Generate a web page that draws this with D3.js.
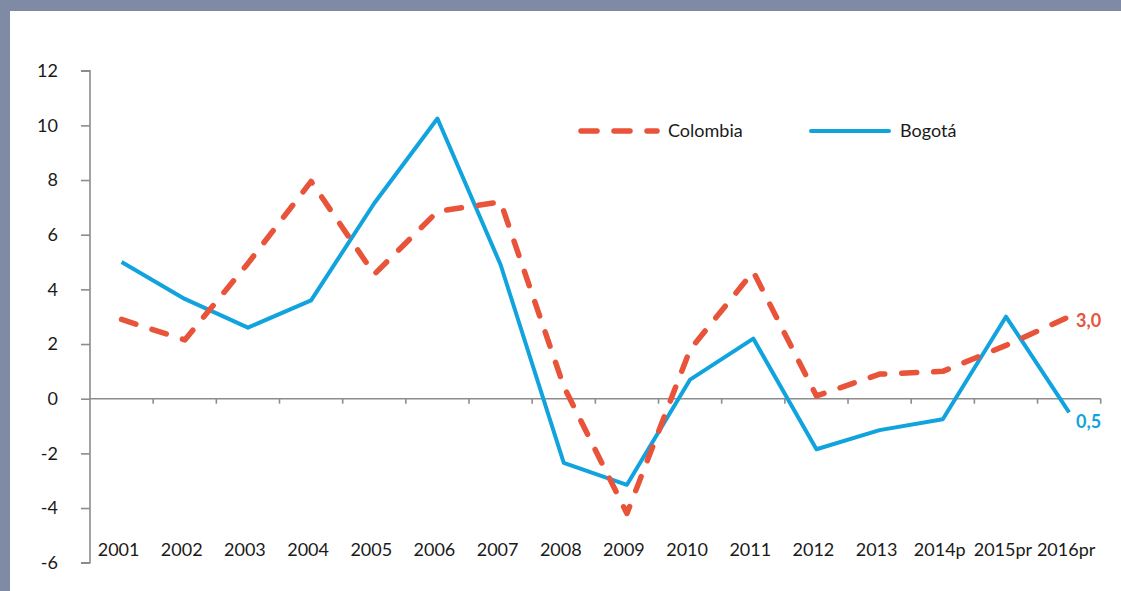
<!DOCTYPE html>
<html>
<head>
<meta charset="utf-8">
<script src="https://cdn.jsdelivr.net/npm/d3@7"></script>
<style>
  html, body { margin: 0; padding: 0; background: #fff; }
  svg { display: block; }
  text { font-family: Lato, "Open Sans", sans-serif; fill: #1a1a1a; }
</style>
</head>
<body>
<div id="chart"></div>
<script>
// growth of Colombia vs Bogotá, one line each, categories along x

const years = ['2001', '2002', '2003', '2004', '2005', '2006', '2007', '2008',
  '2009', '2010', '2011', '2012', '2013', '2014p', '2015pr', '2016pr'];

const colombia = [2.9, 2.15, 4.95, 7.95, 4.55, 6.85, 7.2, 0.45,
  -4.2, 1.8, 4.65, 0.1, 0.9, 1.0, 1.95, 3.0];

const bogota = [5.0, 3.65, 2.6, 3.6, 7.15, 10.25, 4.9, -2.35,
  -3.15, 0.7, 2.2, -1.85, -1.15, -0.75, 3.0, -0.5];

const yTicks = [-6, -4, -2, 0, 2, 4, 6, 8, 10, 12];
const endLabels = { colombia: '3,0', bogota: '0,5' };

const W = 1121, H = 591;
const RED = '#e8533a', BLUE = '#10a3dd';

const svg = d3.select('#chart').append('svg')
  .attr('width', W)
  .attr('height', H);

// frame bands top and left
svg.append('rect').attr('x', 0).attr('y', 0).attr('width', W).attr('height', 11).attr('fill', '#7f8ba5');
svg.append('rect').attr('x', 0).attr('y', 0).attr('width', 10).attr('height', H).attr('fill', '#7f8ba5');

const x = d3.scaleBand().domain(years).range([90, 1100.7]);
const y = d3.scaleLinear().domain([-6, 12]).range([562.7, 70.7]);
const cx = d => x(d) + x.bandwidth() / 2;

// y axis
const yAxis = svg.append('g')
  .attr('transform', 'translate(90,0)')
  .call(d3.axisLeft(y).tickValues(yTicks).tickSize(9).tickPadding(23).tickFormat(d3.format('d')));
yAxis.select('.domain').attr('stroke', '#8c8c8c').attr('stroke-width', 1.6)
  .attr('d', `M-9,${y(12)}H0V${y(-6)}H-9`);
yAxis.selectAll('.tick line').attr('stroke', '#8c8c8c').attr('stroke-width', 1.6);
yAxis.selectAll('.tick text')
  .style('font-size', '18px')
  .attr('fill', '#1a1a1a')
  .text(d => d < 0 ? '-' + Math.abs(d) : d);

// zero line with category ticks
const xAxis = svg.append('g').attr('transform', `translate(0,${y(0)})`);
xAxis.append('line')
  .attr('x1', 90).attr('x2', 1100.7)
  .attr('stroke', '#8c8c8c').attr('stroke-width', 1.6);
xAxis.selectAll('line.tk')
  .data(years.slice(1).concat(['end']))
  .enter().append('line')
  .attr('class', 'tk')
  .attr('x1', d => d === 'end' ? 1100.7 : x(d))
  .attr('x2', d => d === 'end' ? 1100.7 : x(d))
  .attr('y1', 0).attr('y2', 5)
  .attr('stroke', '#8c8c8c').attr('stroke-width', 1.6);

// category labels along the bottom
svg.selectAll('text.cat')
  .data(years)
  .enter().append('text')
  .attr('class', 'cat')
  .attr('x', d => cx(d) - 3)
  .attr('y', 550)
  .attr('dy', '0.35em')
  .attr('text-anchor', 'middle')
  .style('font-size', '18px')
  .text(d => d);

const line = d3.line()
  .x((d, i) => cx(years[i]))
  .y(d => y(d));

svg.append('path')
  .datum(bogota)
  .attr('d', line)
  .attr('fill', 'none')
  .attr('stroke', BLUE)
  .attr('stroke-width', 4)
  .attr('stroke-linejoin', 'round');

svg.append('path')
  .datum(colombia)
  .attr('d', line)
  .attr('fill', 'none')
  .attr('stroke', RED)
  .attr('stroke-width', 5.5)
  .attr('stroke-dasharray', '15,17')
  .attr('stroke-linecap', 'round')
  .attr('stroke-linejoin', 'round');

// end labels
svg.append('text')
  .attr('x', 1076).attr('y', y(colombia[colombia.length - 1]) + 4)
  .attr('dy', '0.35em')
  .style('font-size', '18px').style('font-weight', 'bold')
  .style('fill', RED)
  .text(endLabels.colombia);
svg.append('text')
  .attr('x', 1076).attr('y', y(bogota[bogota.length - 1]) + 9)
  .attr('dy', '0.35em')
  .style('font-size', '18px').style('font-weight', 'bold')
  .style('fill', BLUE)
  .text(endLabels.bogota);

// legend
const legend = svg.append('g');
legend.append('line')
  .attr('x1', 581).attr('x2', 657).attr('y1', 131).attr('y2', 131)
  .attr('stroke', RED).attr('stroke-width', 5.5)
  .attr('stroke-dasharray', '16,17').attr('stroke-linecap', 'round');
legend.append('text')
  .attr('x', 668).attr('y', 131).attr('dy', '0.35em')
  .style('font-size', '18px')
  .text('Colombia');
legend.append('line')
  .attr('x1', 811).attr('x2', 889).attr('y1', 131).attr('y2', 131)
  .attr('stroke', BLUE).attr('stroke-width', 4).attr('stroke-linecap', 'round');
legend.append('text')
  .attr('x', 900).attr('y', 131).attr('dy', '0.35em')
  .style('font-size', '18px')
  .text('Bogotá');
</script>
</body>
</html>
